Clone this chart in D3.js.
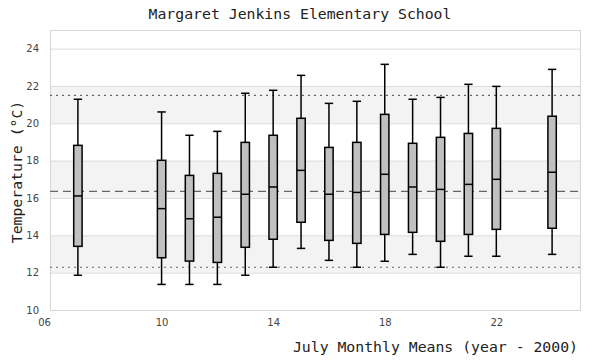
<!DOCTYPE html>
<html>
<head>
<meta charset="utf-8">
<script src="https://cdn.jsdelivr.net/npm/d3@7"></script>
<style>
  html, body { margin: 0; padding: 0; background: #fff; }
  svg { display: block; }
</style>
</head>
<body>
<svg id="chart" width="600" height="360"></svg>
<script>
// ---- Data ----
const years   = [7, 10, 11, 12, 13, 14, 15, 16, 17, 18, 19, 20, 21, 22, 24];
const whiskLo = [11.86, 11.37, 11.37, 11.37, 11.86, 12.29, 13.30, 12.66, 12.29, 12.61, 12.98, 12.29, 12.88, 12.88, 12.98];
const q1      = [13.41, 12.80, 12.62, 12.55, 13.36, 13.79, 14.70, 13.73, 13.57, 14.05, 14.16, 13.68, 14.05, 14.32, 14.38];
const median  = [16.11, 15.43, 14.89, 14.97, 16.20, 16.59, 17.48, 16.20, 16.30, 17.27, 16.59, 16.46, 16.73, 17.00, 17.38];
const q3      = [18.82, 18.02, 17.21, 17.32, 18.98, 19.36, 20.27, 18.71, 18.98, 20.48, 18.93, 19.25, 19.46, 19.73, 20.38];
const whiskHi = [21.29, 20.61, 19.36, 19.57, 21.61, 21.77, 22.57, 21.07, 21.18, 23.16, 21.29, 21.39, 22.09, 21.98, 22.89];

const refMean  = 16.36;
const refLow   = 12.29;
const refHigh  = 21.50;

const xTicks = [6, 10, 14, 18, 22];
const yTicks = [10, 12, 14, 16, 18, 20, 22, 24];
const bands  = [[12, 14], [16, 18], [20, 22]];

const titleText = "Margaret Jenkins Elementary School";
const xLabel = "July Monthly Means (year - 2000)";
const yLabel = "Temperature (\u00B0C)";

// ---- Layout ----
const W = 600, H = 360;
const m = { left: 50, right: 20, top: 30, bottom: 50 };
const svg = d3.select("#chart");

const x = d3.scaleLinear().domain([6, 25]).range([m.left, W - m.right]);
const y = d3.scaleLinear().domain([10, 25]).range([H - m.bottom, m.top]);

const mono = "'DejaVu Sans Mono', monospace";
const sans = "'DejaVu Sans', sans-serif";

// bands
svg.append("g").selectAll("rect").data(bands).join("rect")
  .attr("x", x(6)).attr("width", x(25) - x(6))
  .attr("y", d => y(d[1])).attr("height", d => y(d[0]) - y(d[1]))
  .attr("fill", "#f3f3f3");

// grid lines
svg.append("g").selectAll("line").data(yTicks).join("line")
  .attr("x1", x(6)).attr("x2", x(25))
  .attr("y1", d => y(d) + 0.5).attr("y2", d => y(d) + 0.5)
  .attr("stroke", "#dcdcdc").attr("stroke-width", 1);

// frame
svg.append("rect")
  .attr("x", x(6) + 0.5).attr("y", y(25) + 0.5)
  .attr("width", x(25) - x(6)).attr("height", y(10) - y(25))
  .attr("fill", "none").attr("stroke", "#d6d6d6").attr("stroke-width", 1);

// reference lines
const refs = [
  { v: refHigh, dash: "2,4" },
  { v: refMean, dash: "8,5" },
  { v: refLow,  dash: "2,4" }
];
svg.append("g").selectAll("line").data(refs).join("line")
  .attr("x1", x(6)).attr("x2", x(25))
  .attr("y1", d => y(d.v)).attr("y2", d => y(d.v))
  .attr("stroke", "#666").attr("stroke-width", 1.2)
  .attr("stroke-dasharray", d => d.dash);

// boxes
const boxW = x(6.3) - x(6);
const data = years.map((yr, i) => ({ yr, lo: whiskLo[i], q1: q1[i], med: median[i], q3: q3[i], hi: whiskHi[i] }));
const g = svg.append("g").selectAll("g").data(data).join("g");

g.append("line")
  .attr("x1", d => x(d.yr)).attr("x2", d => x(d.yr))
  .attr("y1", d => y(d.hi)).attr("y2", d => y(d.lo))
  .attr("stroke", "#000").attr("stroke-width", 1.5);
g.append("line")
  .attr("x1", d => x(d.yr) - boxW / 2).attr("x2", d => x(d.yr) + boxW / 2)
  .attr("y1", d => y(d.hi)).attr("y2", d => y(d.hi))
  .attr("stroke", "#000").attr("stroke-width", 1.5);
g.append("line")
  .attr("x1", d => x(d.yr) - boxW / 2).attr("x2", d => x(d.yr) + boxW / 2)
  .attr("y1", d => y(d.lo)).attr("y2", d => y(d.lo))
  .attr("stroke", "#000").attr("stroke-width", 1.5);
g.append("rect")
  .attr("x", d => x(d.yr) - boxW / 2).attr("width", boxW)
  .attr("y", d => y(d.q3)).attr("height", d => y(d.q1) - y(d.q3))
  .attr("fill", "#c0c0c0").attr("stroke", "#000").attr("stroke-width", 1.5);
g.append("line")
  .attr("x1", d => x(d.yr) - boxW / 2).attr("x2", d => x(d.yr) + boxW / 2)
  .attr("y1", d => y(d.med)).attr("y2", d => y(d.med))
  .attr("stroke", "#000").attr("stroke-width", 1.5);

// axes (labels only)
const yAxis = svg.append("g")
  .attr("transform", `translate(${x(6)},0)`)
  .call(d3.axisLeft(y).tickValues(yTicks).tickSize(0).tickPadding(11).tickFormat(d3.format("d")));
yAxis.select(".domain").remove();
yAxis.selectAll("text").attr("font-family", sans).attr("font-size", 10).attr("fill", "#444");

const xAxis = svg.append("g")
  .attr("transform", `translate(0,${y(10)})`)
  .call(d3.axisBottom(x).tickValues(xTicks).tickSize(0).tickPadding(9).tickFormat(d3.format("02d")));
xAxis.select(".domain").remove();
xAxis.selectAll("text").attr("font-family", sans).attr("font-size", 10).attr("fill", "#444")
  .attr("dx", (d) => d === 6 ? -6 : 0);

// titles
svg.append("text").attr("x", 300).attr("y", 19).attr("text-anchor", "middle")
  .attr("font-family", mono).attr("font-size", 14.8).attr("fill", "#222").text(titleText);
svg.append("text").attr("x", 578).attr("y", 352).attr("text-anchor", "end")
  .attr("font-family", mono).attr("font-size", 14.8).attr("fill", "#222").text(xLabel);
svg.append("text").attr("transform", `translate(22,172) rotate(-90)`).attr("text-anchor", "middle")
  .attr("font-family", mono).attr("font-size", 14.8).attr("fill", "#222").text(yLabel);
</script>
</body>
</html>
